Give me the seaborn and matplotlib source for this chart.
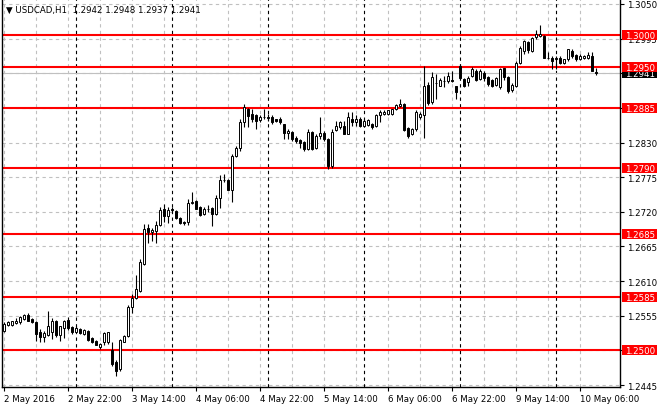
import numpy as np
import pandas as pd
import seaborn as sns
import matplotlib.pyplot as plt
from matplotlib.patches import Rectangle

# USDCAD H1 candles, 2 May 2016 06:00 .. 10 May 2016 10:00
opens = [1.2531, 1.2540, 1.2541, 1.2543, 1.2545, 1.2550, 1.2557, 1.2550, 1.2545, 1.2530,
         1.2522, 1.2524, 1.2530, 1.2546, 1.2524, 1.2536, 1.2549, 1.2537, 1.2530, 1.2534,
         1.2526, 1.2531, 1.2519, 1.2515, 1.2505, 1.2513, 1.2513, 1.2500, 1.2481, 1.2471,
         1.2514, 1.2523, 1.2569, 1.2583, 1.2594, 1.2637, 1.2694, 1.2688, 1.2689, 1.2699,
         1.2725, 1.2714, 1.2724, 1.2722, 1.2711, 1.2704, 1.2704, 1.2734, 1.2737, 1.2727,
         1.2716, 1.2724, 1.2726, 1.2717, 1.2742, 1.2770, 1.2770, 1.2754, 1.2809, 1.2821,
         1.2862, 1.2884, 1.2875, 1.2874, 1.2866, 1.2870, 1.2871, 1.2870, 1.2867, 1.2868,
         1.2860, 1.2845, 1.2847, 1.2838, 1.2834, 1.2831, 1.2820, 1.2846, 1.2821, 1.2840,
         1.2845, 1.2836, 1.2792, 1.2850, 1.2855, 1.2857, 1.2844, 1.2868, 1.2862, 1.2867,
         1.2857, 1.2858, 1.2859, 1.2856, 1.2874, 1.2875, 1.2875, 1.2875, 1.2883, 1.2888,
         1.2891, 1.2853, 1.2844, 1.2851, 1.2870, 1.2873, 1.2922, 1.2894, 1.2925, 1.2920,
         1.2927, 1.2927, 1.2929, 1.2919, 1.2952, 1.2931, 1.2926, 1.2936, 1.2944, 1.2931,
         1.2941, 1.2934, 1.2929, 1.2921, 1.2918, 1.2948, 1.2934, 1.2913, 1.2920, 1.2957,
         1.2975, 1.2990, 1.2976, 1.2997, 1.2999, 1.2999, 1.2965, 1.2965, 1.2964, 1.2964,
         1.2957, 1.2963, 1.2976, 1.2969, 1.2963, 1.2964, 1.2964, 1.2968, 1.2942]
highs = [1.2545, 1.2546, 1.2547, 1.2551, 1.2555, 1.2558, 1.2559, 1.2551, 1.2546, 1.2534,
         1.2531, 1.2563, 1.2551, 1.2549, 1.2539, 1.2549, 1.2553, 1.2538, 1.2538, 1.2535,
         1.2534, 1.2532, 1.2521, 1.2517, 1.2511, 1.2529, 1.2530, 1.2513, 1.2484, 1.2518,
         1.2525, 1.2572, 1.2590, 1.2620, 1.2645, 1.2700, 1.2701, 1.2695, 1.2706, 1.2727,
         1.2733, 1.2727, 1.2727, 1.2723, 1.2712, 1.2705, 1.2741, 1.2751, 1.2738, 1.2729,
         1.2727, 1.2731, 1.2727, 1.2746, 1.2779, 1.2780, 1.2772, 1.2812, 1.2825, 1.2867,
         1.2891, 1.2885, 1.2883, 1.2876, 1.2874, 1.2883, 1.2875, 1.2873, 1.2868, 1.2870,
         1.2860, 1.2852, 1.2848, 1.2841, 1.2836, 1.2832, 1.2852, 1.2848, 1.2844, 1.2870,
         1.2849, 1.2838, 1.2852, 1.2865, 1.2865, 1.2865, 1.2878, 1.2878, 1.2874, 1.2870,
         1.2867, 1.2868, 1.2861, 1.2875, 1.2881, 1.2881, 1.2882, 1.2884, 1.2891, 1.2899,
         1.2893, 1.2855, 1.2853, 1.2881, 1.2878, 1.2951, 1.2926, 1.2942, 1.2939, 1.2932,
         1.2936, 1.2942, 1.2944, 1.2920, 1.2954, 1.2932, 1.2935, 1.2950, 1.2947, 1.2946,
         1.2944, 1.2936, 1.2931, 1.2934, 1.2948, 1.2949, 1.2936, 1.2925, 1.2960, 1.2983,
         1.2993, 1.2992, 1.2997, 1.3008, 1.3017, 1.3001, 1.2973, 1.2967, 1.2968, 1.2967,
         1.2963, 1.2979, 1.2978, 1.2971, 1.2970, 1.2969, 1.2973, 1.2973, 1.2948]
lows = [1.2530, 1.2538, 1.2539, 1.2542, 1.2542, 1.2549, 1.2546, 1.2543, 1.2515, 1.2514,
        1.2514, 1.2523, 1.2518, 1.2522, 1.2515, 1.2520, 1.2533, 1.2526, 1.2529, 1.2526,
        1.2525, 1.2515, 1.2512, 1.2508, 1.2503, 1.2509, 1.2510, 1.2476, 1.2460, 1.2468,
        1.2513, 1.2521, 1.2560, 1.2582, 1.2592, 1.2635, 1.2671, 1.2673, 1.2671, 1.2698,
        1.2704, 1.2703, 1.2719, 1.2709, 1.2701, 1.2699, 1.2699, 1.2732, 1.2724, 1.2714,
        1.2715, 1.2719, 1.2698, 1.2715, 1.2726, 1.2767, 1.2754, 1.2736, 1.2807, 1.2817,
        1.2854, 1.2854, 1.2862, 1.2852, 1.2862, 1.2867, 1.2865, 1.2860, 1.2862, 1.2860,
        1.2836, 1.2836, 1.2833, 1.2830, 1.2822, 1.2817, 1.2818, 1.2818, 1.2820, 1.2836,
        1.2833, 1.2788, 1.2790, 1.2848, 1.2852, 1.2843, 1.2843, 1.2857, 1.2857, 1.2854,
        1.2854, 1.2856, 1.2852, 1.2854, 1.2862, 1.2873, 1.2874, 1.2874, 1.2881, 1.2886,
        1.2849, 1.2837, 1.2842, 1.2849, 1.2867, 1.2838, 1.2889, 1.2891, 1.2899, 1.2919,
        1.2918, 1.2924, 1.2926, 1.2899, 1.2931, 1.2918, 1.2920, 1.2934, 1.2927, 1.2930,
        1.2928, 1.2920, 1.2918, 1.2920, 1.2915, 1.2930, 1.2909, 1.2910, 1.2918, 1.2955,
        1.2970, 1.2972, 1.2974, 1.2995, 1.2997, 1.2964, 1.2962, 1.2947, 1.2947, 1.2955,
        1.2955, 1.2960, 1.2965, 1.2960, 1.2961, 1.2963, 1.2963, 1.2943, 1.2937]
closes = [1.2542, 1.2545, 1.2546, 1.2547, 1.2553, 1.2557, 1.2547, 1.2545, 1.2526, 1.2522,
          1.2528, 1.2538, 1.2546, 1.2524, 1.2538, 1.2547, 1.2535, 1.2530, 1.2535, 1.2527,
          1.2532, 1.2517, 1.2514, 1.2509, 1.2510, 1.2527, 1.2529, 1.2478, 1.2468, 1.2516,
          1.2523, 1.2569, 1.2583, 1.2597, 1.2640, 1.2693, 1.2688, 1.2691, 1.2699, 1.2723,
          1.2714, 1.2723, 1.2723, 1.2710, 1.2702, 1.2702, 1.2734, 1.2735, 1.2725, 1.2715,
          1.2724, 1.2725, 1.2717, 1.2742, 1.2770, 1.2771, 1.2755, 1.2809, 1.2821, 1.2863,
          1.2886, 1.2872, 1.2867, 1.2865, 1.2871, 1.2871, 1.2869, 1.2862, 1.2864, 1.2862,
          1.2845, 1.2849, 1.2836, 1.2833, 1.2829, 1.2820, 1.2846, 1.2820, 1.2841, 1.2845,
          1.2836, 1.2792, 1.2846, 1.2857, 1.2862, 1.2844, 1.2870, 1.2862, 1.2867, 1.2857,
          1.2865, 1.2866, 1.2854, 1.2874, 1.2878, 1.2879, 1.2881, 1.2883, 1.2890, 1.2891,
          1.2850, 1.2841, 1.2851, 1.2878, 1.2876, 1.2920, 1.2892, 1.2934, 1.2924, 1.2929,
          1.2928, 1.2935, 1.2928, 1.2910, 1.2933, 1.2920, 1.2933, 1.2946, 1.2929, 1.2943,
          1.2933, 1.2923, 1.2920, 1.2932, 1.2947, 1.2934, 1.2912, 1.2921, 1.2957, 1.2980,
          1.2991, 1.2977, 1.2996, 1.3002, 1.3002, 1.2965, 1.2964, 1.2960, 1.2963, 1.2957,
          1.2962, 1.2978, 1.2967, 1.2963, 1.2968, 1.2967, 1.2969, 1.2944, 1.2941]

levels = [1.3000, 1.2950, 1.2885, 1.2790, 1.2685, 1.2585, 1.2500]
y_ticks = [1.3050, 1.2995, 1.2940, 1.2885, 1.2830, 1.2775, 1.2720, 1.2665, 1.2610, 1.2555, 1.2500, 1.2445]
x_labels = ["2 May 2016", "2 May 22:00", "3 May 14:00", "4 May 06:00", "4 May 22:00",
            "5 May 14:00", "6 May 06:00", "6 May 22:00", "9 May 14:00", "10 May 06:00"]
bid = 1.2941
title = "\u25bc USDCAD,H1  1.2942 1.2948 1.2937 1.2941"

times = pd.date_range("2016-05-02 06:00", "2016-05-10 10:00", freq="h")
times = times[times.weekday < 5]
df = pd.DataFrame({"open": opens, "high": highs, "low": lows, "close": closes}, index=times)
df["x"] = np.arange(len(df))
df["up"] = df["close"] >= df["open"]

sns.set_style("white")
plt.rcParams["font.family"] = ["DejaVu Sans"]
fs = 6.2

fig = plt.figure(figsize=(6.6, 4.1), dpi=100)
ax = fig.add_axes([2 / 660, 22 / 410, 618 / 660, 388 / 410])

# grid: horizontal at ticks, vertical every 8 bars
for yv in y_ticks:
    ax.axhline(yv, color="#c0c0c0", lw=0.8, ls=(0, (3, 3)), zorder=1)
for xv in df["x"][::8]:
    ax.axvline(xv, color="#c0c0c0", lw=0.8, ls=(0, (3, 3)), zorder=1)

# day separators
for xv in df.loc[df.index.hour == 0, "x"]:
    ax.axvline(xv, color="black", lw=0.8, ls=(0, (3, 3)), zorder=1.5)

ax.axhline(bid, color="#c0c0c0", lw=0.8, zorder=1.6)
for lv in levels:
    ax.axhline(lv, color="#ff0000", lw=1.5, zorder=2)

# candles
ax.vlines(df["x"], df["low"], df["high"], color="black", lw=0.8, zorder=3)
body_h = (df["close"] - df["open"]).abs().clip(lower=0.00002)
body_b = df[["open", "close"]].min(axis=1)
colors = np.where(df["up"], "white", "black")
ax.bar(df["x"], body_h, bottom=body_b, width=0.7, color=colors,
       edgecolor="black", linewidth=0.7, zorder=4)

ymin, ymax = 1.24419, 1.30579
ax.set_xlim(-0.5, 154)
ax.set_ylim(ymin, ymax)

# tick labels that sit fully under a price box are left blank
covered = levels + [bid]
ax.yaxis.tick_right()
ax.set_yticks(y_ticks)
ax.set_yticklabels(["" if min(abs(v - c) for c in covered) < 0.0002 else f"{v:.4f}"
                    for v in y_ticks])
ax.set_xticks(df["x"][::16])
ax.set_xticklabels(x_labels, ha="left")
ax.tick_params(axis="both", labelsize=fs, length=3, width=0.8, color="black",
               direction="out", pad=2, labelcolor="black")
ax.tick_params(axis="y", right=True, left=False)
ax.tick_params(axis="x", bottom=True)

for side in ["left", "right", "bottom"]:
    ax.spines[side].set_visible(True)
    ax.spines[side].set_color("black")
    ax.spines[side].set_linewidth(1)
ax.spines["top"].set_visible(False)

# price boxes on the right scale (about 35 x 10 px)
tr = ax.get_yaxis_transform()
px_y = (ymax - ymin) / 388
box_x, box_w = 1 + 2 / 618, 35 / 618


def price_box(val, fc, z):
    ax.add_patch(Rectangle((box_x, val - 5 * px_y), box_w, 10 * px_y, transform=tr,
                           fc=fc, ec="none", clip_on=False, zorder=z))
    ax.text(box_x + 3 / 618, val - 0.5 * px_y, f"{val:.4f}", transform=tr, ha="left",
            va="center", fontsize=fs, color="white", zorder=z + 0.5, clip_on=False)


price_box(bid, "black", 8)
for lv in levels:
    price_box(lv, "#ff0000", 9)

ax.text(0.006, 0.974, title, transform=ax.transAxes, ha="left", va="center",
        fontsize=fs, color="black", zorder=10)

fig.savefig("out.png", dpi=100)
